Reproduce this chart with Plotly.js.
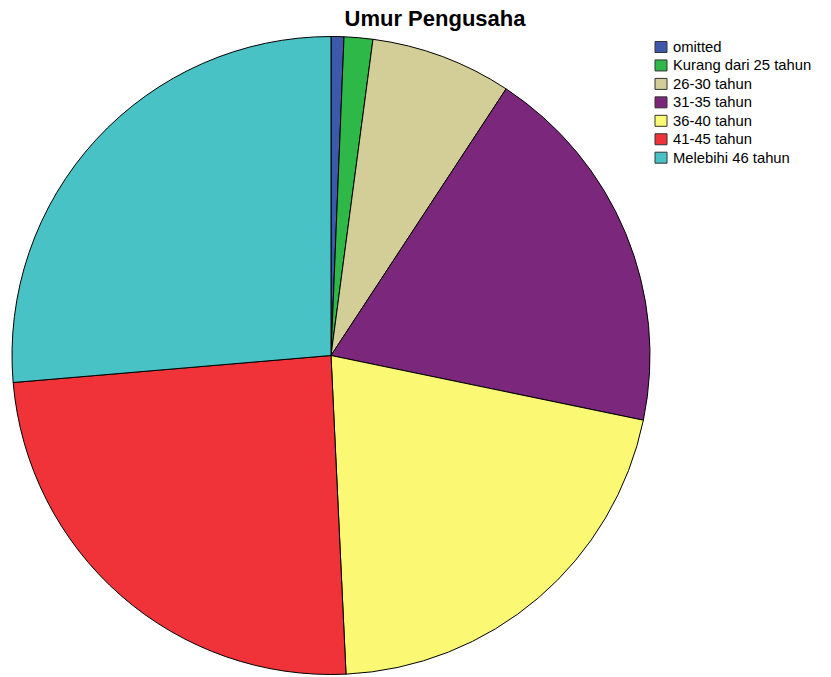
<!DOCTYPE html>
<html>
<head>
<meta charset="utf-8">
<script src="https://cdn.plot.ly/plotly-3.0.1.min.js"></script>
<style>html,body{margin:0;padding:0;background:#fff;}#chart{width:831px;height:677px;}</style>
</head>
<body>
<div id="chart"></div>
<script>
const categories = ["omitted", "Kurang dari 25 tahun", "26-30 tahun", "31-35 tahun", "36-40 tahun", "41-45 tahun", "Melebihi 46 tahun"];
const percentValues = [0.65, 1.45, 7.15, 19.0, 21.0, 24.4, 26.35];
const sliceColors = ["#3E58AC", "#2EB848", "#D3CE97", "#7B277C", "#FBF873", "#EF3338", "#48C2C5"];

const W = 831, H = 677;
const FONT = "Liberation Sans, Arial, sans-serif";
const trace = {
  type: "pie",
  labels: categories,
  values: percentValues,
  sort: false,
  direction: "clockwise",
  rotation: 0,
  textinfo: "none",
  hoverinfo: "label+percent",
  showlegend: false,
  marker: { colors: sliceColors, line: { color: "#000000", width: 1 } },
  domain: { x: [12 / W, 650 / W], y: [2 / H, 1 - 36 / H] }
};

// Legend built from the category and colour arrays
const legTop = 47, legStep = 18.45;
const shapes = categories.map((c, i) => {
  const cy = legTop + legStep * i;
  return {
    type: "rect", xref: "paper", yref: "paper",
    x0: 655 / W, x1: 667 / W,
    y0: 1 - (cy + 5.5) / H, y1: 1 - (cy - 5.5) / H,
    fillcolor: sliceColors[i], line: { color: "#333333", width: 1 }
  };
});
const annotations = categories.map((c, i) => ({
  text: c, xref: "paper", yref: "paper",
  x: 671 / W, xanchor: "left",
  y: 1 - (legTop + legStep * i) / H, yanchor: "middle",
  showarrow: false,
  font: { size: 14.8, family: FONT, color: "#000" }
}));

const layout = {
  width: W, height: H,
  margin: { l: 0, r: 0, t: 0, b: 0 },
  paper_bgcolor: "#ffffff",
  font: { family: FONT, color: "#000" },
  title: {
    text: "<b>Umur Pengusaha</b>",
    font: { size: 22, family: FONT, color: "#000" },
    x: 435 / W, xanchor: "center", xref: "paper",
    y: 1 - 18 / H, yanchor: "middle", yref: "container"
  },
  showlegend: false,
  shapes: shapes,
  annotations: annotations
};
Plotly.newPlot("chart", [trace], layout, { displayModeBar: false, staticPlot: true });
</script>
</body>
</html>
